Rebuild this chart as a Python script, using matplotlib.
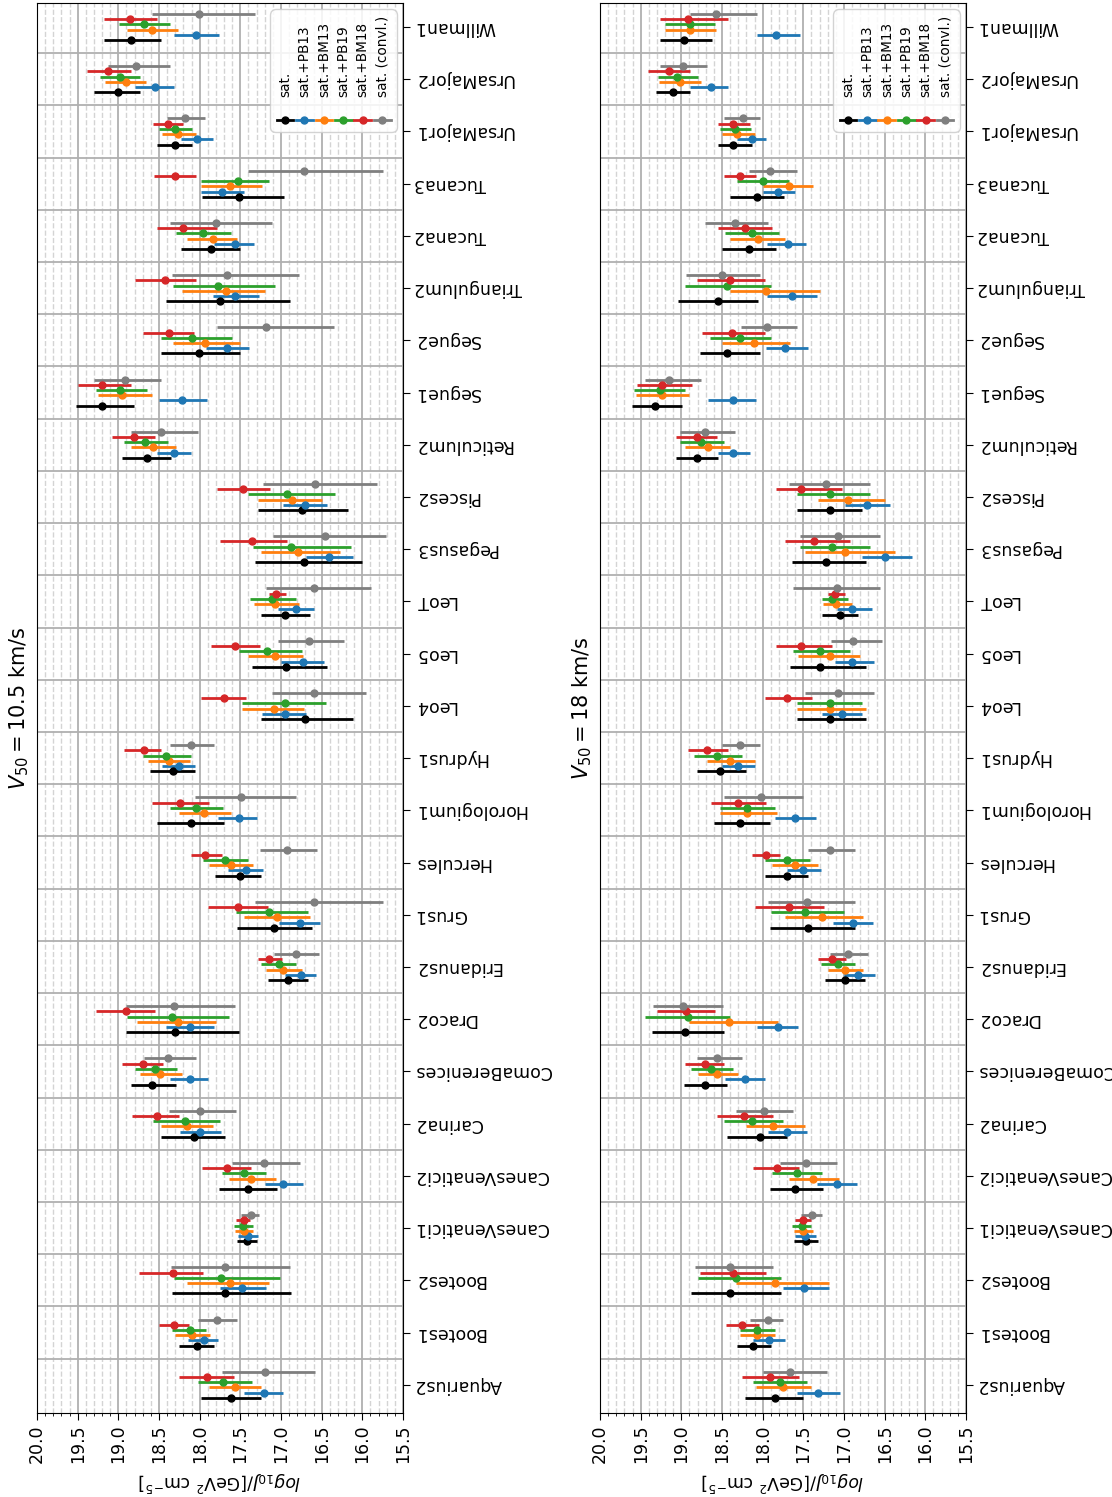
import matplotlib
matplotlib.use("Agg")
import matplotlib.pyplot as plt
import numpy as np
from matplotlib.ticker import MultipleLocator, FixedLocator
from matplotlib.offsetbox import TextArea, DrawingArea, VPacker, HPacker, AnchoredOffsetbox
from matplotlib.lines import Line2D

galaxies = ["Aquarius2", "Bootes1", "Bootes2", "CanesVenatici1", "CanesVenatici2",
            "Carina2", "ComaBerenices", "Draco2", "Eridanus2", "Grus1", "Hercules",
            "Horologium1", "Hydrus1", "Leo4", "Leo5", "LeoT", "Pegasus3", "Pisces2",
            "Reticulum2", "Segue1", "Segue2", "Triangulum2", "Tucana2", "Tucana3",
            "UrsaMajor1", "UrsaMajor2", "Willman1"]

series_labels = ["sat.", "sat.+PB13", "sat.+BM13", "sat.+PB19", "sat.+BM18", "sat. (convl.)"]
series_colors = ["black", "#1f77b4", "#ff7f0e", "#2ca02c", "#d62728", "#7f7f7f"]

# ---- V50 = 10.5 km/s : (value, upper end, lower end) of log10 J per galaxy ----
v105_sat = [(17.61, 17.98, 17.25), (18.03, 18.25, 17.82), (17.69, 18.34, 16.88), (17.42, 17.54, 17.30),
            (17.40, 17.76, 17.05), (18.07, 18.47, 17.69), (18.58, 18.85, 18.29), (18.30, 18.91, 17.52),
            (16.91, 17.16, 16.67), (17.09, 17.54, 16.62), (17.51, 17.81, 17.24), (18.11, 18.52, 17.70),
            (18.33, 18.61, 18.06), (16.71, 17.24, 16.11), (16.94, 17.36, 16.44), (16.95, 17.25, 16.64),
            (16.72, 17.32, 16.00), (16.74, 17.28, 16.18), (18.65, 18.95, 18.35), (19.20, 19.52, 18.81),
            (18.01, 18.47, 17.51), (17.75, 18.41, 16.89), (17.86, 18.23, 17.50), (17.52, 17.97, 16.96),
            (18.30, 18.52, 18.09), (19.01, 19.30, 18.73), (18.85, 19.18, 18.47)]
v105_pb13 = [(17.21, 17.46, 16.97), (17.95, 18.14, 17.77), (17.48, 17.75, 17.18), (17.41, 17.53, 17.28),
             (16.98, 17.20, 16.73), (18.00, 18.24, 17.74), (18.12, 18.36, 17.90), (18.12, 18.41, 17.82),
             (16.76, 16.95, 16.57), (16.77, 17.02, 16.52), (17.43, 17.65, 17.22), (17.52, 17.77, 17.30),
             (18.25, 18.46, 18.06), (16.95, 17.23, 16.69), (16.73, 17.00, 16.47), (16.82, 17.04, 16.60),
             (16.41, 16.69, 16.12), (16.70, 16.97, 16.43), (18.31, 18.52, 18.11), (18.22, 18.50, 17.91),
             (17.66, 17.92, 17.39), (17.56, 17.84, 17.27), (17.57, 17.82, 17.33), (17.73, 17.98, 17.46),
             (18.03, 18.23, 17.83), (18.55, 18.79, 18.31), (18.05, 18.31, 17.76)]
v105_bm13 = [(17.57, 17.88, 17.25), (18.09, 18.30, 17.87), (17.63, 18.16, 17.15), (17.45, 17.56, 17.34),
             (17.37, 17.64, 17.06), (18.16, 18.48, 17.83), (18.49, 18.73, 18.22), (18.27, 18.77, 17.80),
             (16.98, 17.18, 16.74), (17.05, 17.46, 16.64), (17.62, 17.88, 17.34), (17.95, 18.25, 17.61),
             (18.38, 18.63, 18.12), (17.09, 17.48, 16.72), (17.07, 17.41, 16.73), (17.07, 17.33, 16.78),
             (16.79, 17.24, 16.27), (16.87, 17.28, 16.49), (18.57, 18.84, 18.29), (18.95, 19.25, 18.58),
             (17.93, 18.33, 17.50), (17.68, 18.22, 17.20), (17.84, 18.16, 17.54), (17.63, 17.98, 17.23),
             (18.27, 18.46, 18.05), (18.91, 19.17, 18.66), (18.59, 18.89, 18.27)]
v105_pb19 = [(17.71, 18.02, 17.36), (18.12, 18.34, 17.92), (17.74, 18.32, 17.01), (17.47, 17.58, 17.34),
             (17.46, 17.73, 17.18), (18.18, 18.57, 17.75), (18.55, 18.80, 18.28), (18.34, 18.89, 17.64),
             (17.03, 17.24, 16.82), (17.15, 17.55, 16.67), (17.69, 17.96, 17.40), (18.05, 18.36, 17.71),
             (18.42, 18.70, 18.11), (16.95, 17.48, 16.45), (17.17, 17.52, 16.74), (17.11, 17.38, 16.82),
             (16.88, 17.35, 16.14), (16.93, 17.41, 16.34), (18.67, 18.93, 18.39), (18.98, 19.28, 18.65),
             (18.10, 18.47, 17.60), (17.77, 18.33, 17.07), (17.96, 18.29, 17.61), (17.53, 17.98, 17.15),
             (18.30, 18.50, 18.10), (18.98, 19.22, 18.73), (18.69, 18.99, 18.36)]
v105_bm18 = [(17.91, 18.25, 17.58), (18.31, 18.50, 18.13), (18.33, 18.74, 17.96), (17.46, 17.55, 17.38),
             (17.67, 17.97, 17.37), (18.53, 18.83, 18.25), (18.70, 18.96, 18.45), (18.90, 19.27, 18.55),
             (17.15, 17.28, 16.99), (17.53, 17.90, 17.16), (17.93, 18.11, 17.73), (18.24, 18.59, 17.89),
             (18.69, 18.93, 18.48), (17.70, 17.98, 17.43), (17.56, 17.86, 17.26), (17.06, 17.15, 16.94),
             (17.36, 17.75, 16.93), (17.47, 17.79, 17.14), (18.81, 19.08, 18.55), (19.20, 19.50, 18.84),
             (18.38, 18.70, 18.07), (18.43, 18.79, 18.05), (18.20, 18.52, 17.79), (18.30, 18.56, 18.05),
             (18.39, 18.57, 18.20), (19.13, 19.39, 18.85), (18.86, 19.18, 18.53)]
v105_conv = [(17.20, 17.73, 16.58), (17.79, 18.02, 17.54), (17.69, 18.35, 16.89), (17.37, 17.49, 17.27),
             (17.21, 17.60, 16.77), (18.00, 18.38, 17.55), (18.39, 18.68, 18.05), (18.31, 18.90, 17.57),
             (16.82, 17.09, 16.53), (16.60, 17.32, 15.75), (16.93, 17.26, 16.56), (17.49, 18.06, 16.81),
             (18.11, 18.36, 17.82), (16.59, 17.11, 15.95), (16.66, 17.04, 16.22), (16.59, 17.19, 15.89),
             (16.46, 17.10, 15.71), (16.58, 17.22, 15.82), (18.47, 18.85, 18.02), (18.92, 19.30, 18.48),
             (17.19, 17.79, 16.35), (17.66, 18.34, 16.78), (17.80, 18.37, 17.11), (16.72, 17.41, 15.75),
             (18.18, 18.40, 17.93), (18.78, 19.13, 18.37), (18.01, 18.59, 17.32)]

# ---- V50 = 18 km/s ----
v18_sat = [(17.85, 18.22, 17.50), (18.12, 18.32, 17.90), (18.40, 18.88, 17.78), (17.47, 17.61, 17.32),
           (17.60, 17.91, 17.26), (18.03, 18.44, 17.70), (18.71, 18.97, 18.44), (18.95, 19.36, 18.47),
           (16.99, 17.23, 16.74), (17.44, 17.91, 16.86), (17.70, 17.97, 17.44), (18.28, 18.60, 17.91),
           (18.52, 18.81, 18.20), (17.17, 17.58, 16.73), (17.29, 17.66, 16.73), (17.05, 17.27, 16.83),
           (17.22, 17.64, 16.73), (17.17, 17.58, 16.78), (18.81, 19.07, 18.55), (19.32, 19.61, 18.99),
           (18.44, 18.77, 18.03), (18.55, 19.04, 18.06), (18.17, 18.50, 17.83), (18.07, 18.40, 17.74),
           (18.36, 18.55, 18.13), (19.10, 19.31, 18.89), (18.97, 19.26, 18.62)]
v18_pb13 = [(17.32, 17.58, 17.05), (17.92, 18.12, 17.73), (17.49, 17.75, 17.18), (17.48, 17.60, 17.35),
            (17.08, 17.33, 16.84), (17.70, 17.94, 17.45), (18.22, 18.46, 17.97), (17.81, 18.07, 17.56),
            (16.83, 17.00, 16.62), (16.89, 17.14, 16.64), (17.50, 17.70, 17.28), (17.60, 17.85, 17.35),
            (18.30, 18.50, 18.10), (17.02, 17.27, 16.78), (16.90, 17.11, 16.63), (16.90, 17.09, 16.65),
            (16.49, 16.78, 16.16), (16.72, 16.99, 16.43), (18.36, 18.55, 18.15), (18.36, 18.67, 18.08),
            (17.72, 17.96, 17.44), (17.64, 17.95, 17.33), (17.69, 17.95, 17.47), (17.81, 18.00, 17.60),
            (18.13, 18.31, 17.96), (18.63, 18.89, 18.43), (17.84, 18.07, 17.54)]
v18_bm13 = [(17.75, 18.08, 17.40), (18.07, 18.28, 17.85), (17.85, 18.33, 17.18), (17.50, 17.62, 17.38),
            (17.38, 17.68, 17.06), (17.87, 18.20, 17.48), (18.56, 18.80, 18.30), (18.41, 18.90, 17.81),
            (16.99, 17.20, 16.77), (17.27, 17.72, 16.77), (17.60, 17.88, 17.32), (18.19, 18.52, 17.82),
            (18.40, 18.68, 18.10), (17.17, 17.58, 16.73), (17.17, 17.57, 16.80), (17.10, 17.26, 16.90),
            (16.99, 17.48, 16.37), (16.95, 17.32, 16.49), (18.67, 18.95, 18.40), (19.24, 19.56, 18.90),
            (18.11, 18.50, 17.66), (17.96, 18.40, 17.30), (18.06, 18.40, 17.72), (17.68, 18.00, 17.38),
            (18.31, 18.50, 18.10), (19.02, 19.27, 18.76), (18.89, 19.20, 18.57)]
v18_pb19 = [(17.79, 18.12, 17.45), (18.07, 18.28, 17.85), (18.33, 18.79, 17.78), (17.52, 17.64, 17.40),
            (17.58, 17.88, 17.27), (18.13, 18.48, 17.75), (18.63, 18.88, 18.37), (18.92, 19.45, 18.40),
            (17.07, 17.28, 16.86), (17.48, 17.90, 17.00), (17.70, 17.97, 17.42), (18.19, 18.52, 17.85),
            (18.56, 18.85, 18.25), (17.17, 17.58, 16.78), (17.29, 17.63, 16.93), (17.15, 17.27, 16.95),
            (17.15, 17.54, 16.68), (17.17, 17.58, 16.68), (18.76, 19.02, 18.48), (19.26, 19.58, 18.95),
            (18.28, 18.65, 17.90), (18.44, 18.95, 17.90), (18.13, 18.46, 17.80), (17.99, 18.32, 17.68),
            (18.34, 18.53, 18.14), (19.05, 19.29, 18.80), (18.89, 19.20, 18.58)]
v18_bm18 = [(17.91, 18.25, 17.55), (18.25, 18.45, 18.05), (18.36, 18.77, 17.96), (17.50, 17.60, 17.40),
            (17.82, 18.12, 17.55), (18.23, 18.56, 17.87), (18.71, 18.96, 18.47), (18.94, 19.30, 18.58),
            (17.15, 17.32, 16.98), (17.68, 18.10, 17.25), (17.96, 18.13, 17.79), (18.30, 18.63, 17.96),
            (18.68, 18.92, 18.43), (17.70, 17.97, 17.39), (17.53, 17.84, 17.15), (17.11, 17.20, 16.99),
            (17.37, 17.72, 16.93), (17.53, 17.84, 17.02), (18.81, 19.07, 18.56), (19.24, 19.55, 18.87),
            (18.38, 18.75, 17.97), (18.40, 18.81, 17.97), (18.22, 18.55, 17.89), (18.28, 18.48, 18.08),
            (18.36, 18.55, 18.15), (19.15, 19.41, 18.89), (18.92, 19.26, 18.43)]
v18_conv = [(17.66, 18.00, 17.21), (17.93, 18.15, 17.75), (18.40, 18.83, 17.87), (17.39, 17.53, 17.27),
            (17.47, 17.79, 17.09), (17.98, 18.33, 17.63), (18.56, 18.81, 18.25), (18.98, 19.35, 18.49),
            (16.95, 17.17, 16.70), (17.45, 17.93, 16.86), (17.17, 17.44, 16.87), (18.02, 18.47, 17.50),
            (18.28, 18.50, 18.03), (17.07, 17.48, 16.63), (16.89, 17.16, 16.53), (17.09, 17.63, 16.56),
            (17.07, 17.54, 16.56), (17.22, 17.68, 16.68), (18.71, 19.02, 18.34), (19.15, 19.45, 18.76),
            (17.95, 18.27, 17.58), (18.50, 18.94, 18.03), (18.34, 18.71, 17.93), (17.91, 18.17, 17.58),
            (18.24, 18.48, 18.03), (18.98, 19.26, 18.68), (18.57, 18.89, 18.07)]

panel_titles = [r"$V_{50} = 10.5$ km/s", r"$V_{50} = 18$ km/s"]
panel_series = [[v105_sat, v105_pb13, v105_bm13, v105_pb19, v105_bm18, v105_conv],
                [v18_sat, v18_pb13, v18_bm13, v18_pb19, v18_bm18, v18_conv]]

W, H = 1112, 1497
fig = plt.figure(figsize=(W / 100, H / 100), dpi=100)
ax_lefts = [37, 600]
ax_w, ax_top, ax_bot = 366, 3, 1413


def make_legend(ax):
    cols = []
    for lab, col in zip(series_labels, series_colors):
        ta = TextArea(lab, textprops=dict(rotation=90, fontsize=9.8))
        da = DrawingArea(12, 8, 0, 0)
        da.add_artist(Line2D([0, 12], [4, 4], color=col, lw=2))
        da.add_artist(Line2D([6], [4], marker="o", color=col, ms=5, lw=0))
        cols.append(VPacker(children=[ta, da], align="center", pad=0, sep=13))
    box = HPacker(children=cols, align="bottom", pad=0, sep=2)
    anch = AnchoredOffsetbox(loc="upper right", child=box, pad=0.45, frameon=True,
                             borderpad=0.45)
    anch.patch.set_boxstyle("round,pad=0,rounding_size=0.4")
    anch.patch.set_edgecolor("0.8")
    anch.patch.set_facecolor("white")
    anch.patch.set_alpha(0.85)
    anch.set_zorder(5)
    ax.add_artist(anch)


ypos = np.arange(len(galaxies))
for p in range(2):
    ax = fig.add_axes([ax_lefts[p] / W, (H - ax_bot) / H, ax_w / W, (ax_bot - ax_top) / H])
    for i, (data, col) in enumerate(zip(panel_series[p], series_colors)):
        arr = np.array(data)
        c, hi, lo = arr[:, 0], arr[:, 1], arr[:, 2]
        ax.errorbar(c, ypos + (i - 2.5) * 0.1, xerr=[c - lo, hi - c], fmt="o", color=col,
                    ms=5, lw=2, capsize=0, zorder=3)
    ax.set_xlim(20, 15.5)
    ax.set_ylim(-0.54, 26.46)
    ax.xaxis.set_major_locator(MultipleLocator(0.5))
    ax.xaxis.set_minor_locator(MultipleLocator(0.1))
    ax.set_yticks(ypos)
    ax.set_yticklabels(galaxies)
    ax.yaxis.set_minor_locator(FixedLocator(ypos[:-1] + 0.5))
    ax.yaxis.tick_right()
    ax.tick_params(axis="y", which="major", labelrotation=180, labelsize=12.5, length=5, pad=3)
    for t in ax.get_yticklabels():
        t.set_va("center")
    ax.tick_params(axis="y", which="minor", length=0)
    ax.tick_params(axis="x", which="major", labelrotation=90, labelsize=12.5, length=5)
    ax.tick_params(axis="x", which="minor", length=2.5)
    ax.grid(which="major", axis="x", color="#b0b0b0", lw=1.3)
    ax.grid(which="minor", axis="x", color="#d4d4d4", lw=1.0, ls="--")
    ax.grid(which="minor", axis="y", color="#b0b0b0", lw=1.3)
    ax.set_axisbelow(True)
    ax.set_xlabel(r"$log_{10}J/[\mathrm{GeV}^2\ \mathrm{cm}^{-5}]$", rotation=180, fontsize=12.5)
    ax.set_ylabel(panel_titles[p], fontsize=15, labelpad=4)
    make_legend(ax)

fig.savefig("out.png", dpi=100)
